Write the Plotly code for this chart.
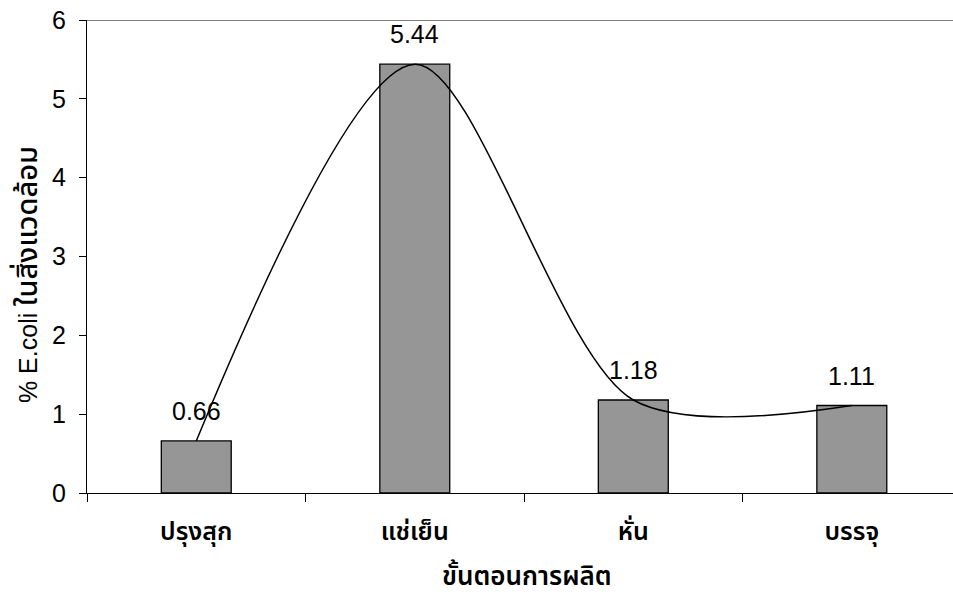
import plotly.graph_objects as go

# Production steps and E.coli percentage found in the environment
steps = ["ปรุงสุก", "แช่เย็น", "หั่น", "บรรจุ"]
ecoli_pct = [0.66, 5.44, 1.18, 1.11]
value_labels = ["0.66", "5.44", "1.18", "1.11"]
y_ticks = [0, 1, 2, 3, 4, 5, 6]

x_title = "ขั้นตอนการผลิต"
y_title_latin = "% E.coli"
y_title_thai = "ในสิ่งแวดล้อม"

latin = "Liberation Sans, Arial, sans-serif"
thai = "Noto Sans Thai, Loma, Garuda, Norasi, Liberation Sans, sans-serif"

fig = go.Figure()

fig.add_trace(go.Bar(
    x=steps,
    y=ecoli_pct,
    width=0.32,
    marker=dict(color="#969696", line=dict(color="#000000", width=1.3)),
    hoverinfo="x+y",
    showlegend=False,
))

fig.add_trace(go.Scatter(
    x=steps,
    y=ecoli_pct,
    mode="lines",
    line=dict(color="#000000", width=1.5, shape="spline", smoothing=0.85),
    hoverinfo="skip",
    showlegend=False,
))

# value labels above each bar
for s, v, t in zip(steps, ecoli_pct, value_labels):
    fig.add_annotation(
        x=s, y=v, text=t, showarrow=False,
        yanchor="middle", yshift=30,
        font=dict(family=latin, size=25, color="#000000"),
    )

# axis titles
fig.add_annotation(
    xref="paper", yref="paper", x=0.508, y=-0.178,
    text=x_title, showarrow=False, xanchor="center", yanchor="middle",
    font=dict(family=thai, size=26, color="#000000", weight=600),
)
fig.add_annotation(
    xref="paper", yref="paper", x=-0.068, y=0.461,
    text=(f"<span style='font-family:{latin}'>{y_title_latin}</span> "
          f"<span style='font-size:29px;font-weight:500'>{y_title_thai}</span>"),
    showarrow=False, textangle=-90,
    xanchor="center", yanchor="middle",
    font=dict(family=thai, size=25, color="#000000"),
)

# plot-area top border
fig.add_shape(
    type="line", xref="paper", yref="y", x0=0, x1=1, y0=6, y1=6,
    line=dict(color="#808080", width=2),
)

fig.update_layout(
    width=953,
    height=597,
    margin=dict(l=87, r=0, t=20, b=104),
    paper_bgcolor="#ffffff",
    plot_bgcolor="#ffffff",
    bargap=0.68,
    xaxis=dict(
        type="category",
        range=[-0.5, 3.463],
        showline=True, linecolor="#000000", linewidth=1.2,
        ticks="outside", tickson="boundaries", ticklen=8,
        tickcolor="#000000", tickwidth=1,
        showgrid=False, zeroline=False,
        tickfont=dict(family=thai, size=25, color="#000000", weight=600),
        ticklabelstandoff=16,
    ),
    yaxis=dict(
        range=[0, 6],
        tickvals=y_ticks,
        showline=True, linecolor="#000000", linewidth=1.2,
        ticks="outside", ticklen=7, tickcolor="#000000", tickwidth=1,
        showgrid=False, zeroline=False,
        tickfont=dict(family=latin, size=25, color="#000000"),
        ticklabelstandoff=8,
    ),
)

fig.write_html("out.html")
